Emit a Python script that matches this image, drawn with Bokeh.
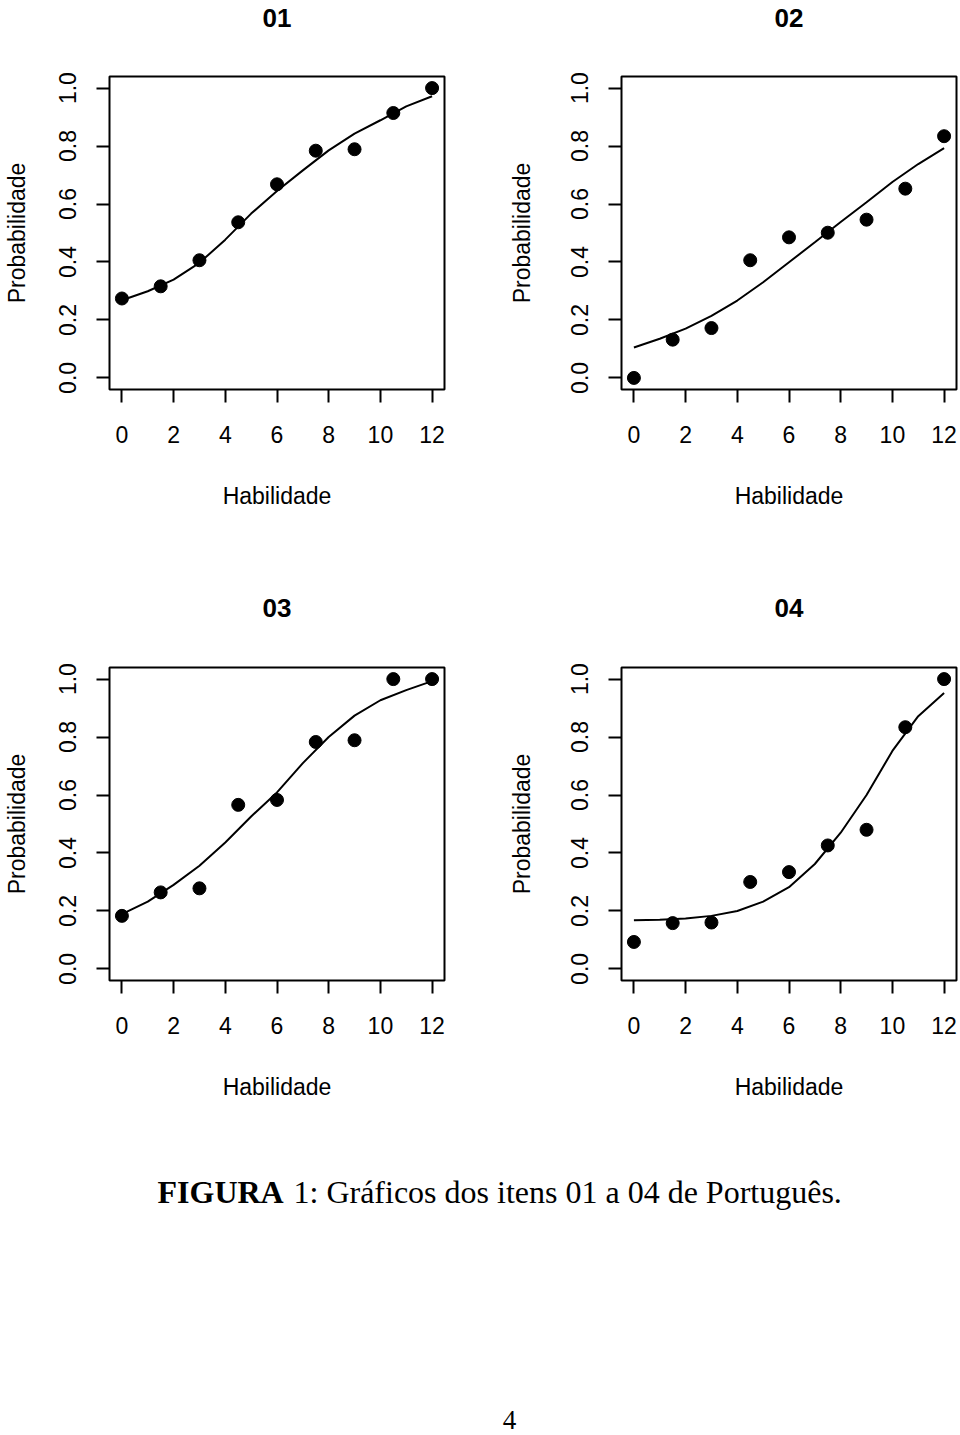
from bokeh.plotting import figure
from bokeh.layouts import column, row
from bokeh.models import FixedTicker, PrintfTickFormatter, Range1d, Label
from bokeh.embed import file_html
from bokeh.resources import INLINE

# ---------------- data ----------------
habilidade_pontos = [0, 1.5, 3, 4.5, 6, 7.5, 9, 10.5, 12]
prob_01 = [0.274, 0.316, 0.406, 0.537, 0.668, 0.784, 0.789, 0.914, 1.0]
prob_02 = [0.0, 0.132, 0.172, 0.406, 0.485, 0.501, 0.546, 0.653, 0.834]
prob_03 = [0.183, 0.264, 0.278, 0.566, 0.583, 0.783, 0.789, 1.0, 1.0]
prob_04 = [0.093, 0.158, 0.160, 0.300, 0.334, 0.426, 0.480, 0.834, 1.0]

habilidade_curva = [0, 1, 2, 3, 4, 5, 6, 7, 8, 9, 10, 11, 12]
curva_01 = [0.268, 0.299, 0.339, 0.397, 0.477, 0.567, 0.645, 0.716, 0.785, 0.843, 0.889, 0.937, 0.972]
curva_02 = [0.105, 0.135, 0.170, 0.214, 0.267, 0.330, 0.399, 0.468, 0.538, 0.606, 0.676, 0.738, 0.793]
curva_03 = [0.189, 0.232, 0.290, 0.356, 0.436, 0.526, 0.609, 0.710, 0.800, 0.874, 0.927, 0.962, 0.993]
curva_04 = [0.168, 0.170, 0.174, 0.183, 0.200, 0.232, 0.282, 0.362, 0.470, 0.600, 0.752, 0.872, 0.952]

titulos = ["01", "02", "03", "04"]
x_ticks = [0, 2, 4, 6, 8, 10, 12]
y_ticks = [0.0, 0.2, 0.4, 0.6, 0.8, 1.0]
x_label = "Habilidade"
y_label = "Probabilidade"
legenda_negrito = "FIGURA"
legenda_texto = "1: Gráficos dos itens 01 a 04 de Português."
numero_pagina = "4"

SANS = "Liberation Sans"
SERIF = "Liberation Serif"


def faixa(width, height):
    """A blank strip (no axes) whose data units are pixels, used for texts."""
    f = figure(width=width, height=height, output_backend="svg", toolbar_location=None,
               x_range=Range1d(0, width), y_range=Range1d(0, height), title=None,
               min_border=0, x_axis_location=None, y_axis_location=None)
    f.outline_line_color = None
    f.xgrid.grid_line_color = None
    f.ygrid.grid_line_color = None
    f.background_fill_color = "white"
    f.border_fill_color = "white"
    return f


def faixa_titulos(t_esq, t_dir):
    f = faixa(960, 40)
    for xc, t in ((276.5, t_esq), (788.5, t_dir)):
        f.add_layout(Label(x=xc, y=23, text=t, text_font=SANS, text_font_size="26px",
                           text_font_style="bold", text_color="black",
                           text_align="center", text_baseline="middle"))
    return f


def painel(xs, ys, cx, cy, height, left, right, top, bottom, ylab_standoff):
    p = figure(width=480, height=height, output_backend="svg", toolbar_location=None,
               x_range=Range1d(-0.48, 12.48), y_range=Range1d(-0.04, 1.04),
               min_border_left=left, min_border_right=right,
               min_border_top=top, min_border_bottom=bottom, title=None)
    p.background_fill_color = "white"
    p.border_fill_color = "white"
    p.outline_line_color = "black"
    p.outline_line_width = 2
    p.outline_line_alpha = 1.0
    p.xgrid.grid_line_color = None
    p.ygrid.grid_line_color = None

    for ax in (p.xaxis[0], p.yaxis[0]):
        ax.axis_line_color = None
        ax.major_tick_line_color = "black"
        ax.major_tick_line_width = 2
        ax.major_tick_out = 13
        ax.major_tick_in = 0
        ax.minor_tick_line_color = None
        ax.major_label_text_font = SANS
        ax.major_label_text_font_size = "23px"
        ax.major_label_text_color = "black"
        ax.axis_label_text_font = SANS
        ax.axis_label_text_font_size = "23px"
        ax.axis_label_text_font_style = "normal"
        ax.axis_label_text_color = "black"

    p.xaxis.ticker = FixedTicker(ticks=x_ticks)
    p.yaxis.ticker = FixedTicker(ticks=y_ticks)
    p.yaxis.formatter = PrintfTickFormatter(format="%.1f")
    p.yaxis.major_label_orientation = "vertical"
    p.xaxis.axis_label = x_label
    p.yaxis.axis_label = y_label
    p.xaxis.major_label_standoff = 23
    p.xaxis.axis_label_standoff = 37
    p.yaxis.major_label_standoff = 20
    p.yaxis.axis_label_standoff = ylab_standoff

    p.line(cx, cy, line_color="black", line_width=2)
    p.scatter(xs, ys, marker="circle", size=13, fill_color="black", line_color="black")
    return p


t12 = faixa_titulos(titulos[0], titulos[1])
f1 = painel(habilidade_pontos, prob_01, habilidade_curva, curva_01, 550, 109, 36, 36, 201, 27)
f2 = painel(habilidade_pontos, prob_02, habilidade_curva, curva_02, 550, 141, 4, 36, 201, 34)
t34 = faixa_titulos(titulos[2], titulos[3])
f3 = painel(habilidade_pontos, prob_03, habilidade_curva, curva_03, 482, 109, 36, 37, 132, 27)
f4 = painel(habilidade_pontos, prob_04, habilidade_curva, curva_04, 482, 141, 4, 37, 132, 34)

# caption area
cap = faixa(960, 323)
cap.add_layout(Label(x=157, y=244, text=legenda_negrito, text_font=SERIF, text_font_size="32px",
                     text_font_style="bold", text_color="black", text_baseline="middle",
                     text_align="left"))
cap.add_layout(Label(x=293, y=244, text=legenda_texto, text_font=SERIF, text_font_size="32px",
                     text_color="black", text_baseline="middle", text_align="left"))
cap.add_layout(Label(x=509, y=16, text=numero_pagina, text_font=SERIF, text_font_size="27px",
                     text_color="black", text_baseline="middle", text_align="center"))

layout = column(t12, row(f1, f2), t34, row(f3, f4), cap)
open("out.html", "w").write(file_html(layout, INLINE))
